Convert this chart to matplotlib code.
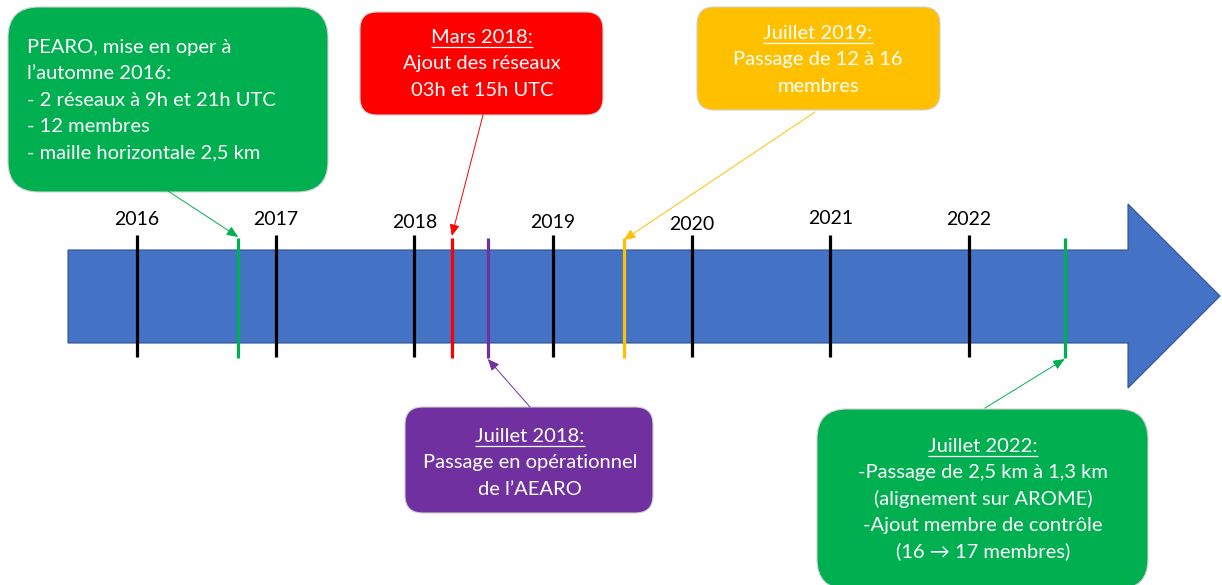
import matplotlib
matplotlib.use('Agg')
import matplotlib.pyplot as plt
from matplotlib.patches import Polygon, FancyBboxPatch

# ---------------- data ----------------
years = [2016, 2017, 2018, 2019, 2020, 2021, 2022]
year_labels = ['2016', '2017', '2018', '2019', '2020', '2021', '2022']
event_dates = [2016.73, 2018.27, 2018.53, 2019.51, 2022.69]
event_colors = ['#00B050', '#FF0000', '#7030A0', '#FFC000', '#00B050']
event_titles = [None, 'Mars 2018:', 'Juillet 2018:', 'Juillet 2019:', 'Juillet 2022:']
event_lines = [
    ['PEARO, mise en oper à', 'l\u2019automne 2016:', '- 2 réseaux à 9h et 21h UTC',
     '- 12 membres', '- maille horizontale 2,5 km'],
    ['Ajout des réseaux', '03h et 15h UTC'],
    ['Passage en opérationnel', 'de l\u2019AEARO'],
    ['Passage de 12 à 16', 'membres'],
    ['-Passage de 2,5 km à 1,3 km', '(alignement sur AROME)',
     '-Ajout membre de contrôle', '(16 \u2192 17 membres)'],
]

# ---------------- layout (pixels) ----------------
W, H = 1222, 585
PX_2016, PX_PER_YEAR = 137, 138.67
year_label_base = [225, 225, 228, 228, 230, 224, 225]
box_rects = [(8, 7, 320, 185), (360, 12, 243, 103), (405, 407, 248, 106),
             (697, 7, 243, 103), (817, 409, 331, 180)]
text_x = [27, 482, 530, 818, 983]
text_ha = ['left', 'center', 'center', 'center', 'center']
first_base = [53, 43, 442, 39, 452]
line_step = 26.4
conn_start = [(168, 191), (483, 115), (530, 407), (815, 112), (985, 408)]
conn_end_y = [237, 236, 359, 240, 359]

FONT = ['Lato', 'DejaVu Sans']
FS_YEAR = 14
FS_BOX = 14.5

fig = plt.figure(figsize=(W / 100, H / 100), dpi=100)
ax_bg = fig.add_axes([0, 0, 1, 1])
ax_bg.set_xlim(0, W)
ax_bg.set_ylim(H, 0)
ax_bg.axis('off')

ax = fig.add_axes([0, 0, 1, 1])
ax.set_xlim(2016 - PX_2016 / PX_PER_YEAR, 2016 + (W - PX_2016) / PX_PER_YEAR)
ax.set_ylim(H, 0)
ax.axis('off')
ax.patch.set_visible(False)

# timeline arrow
arrow = Polygon([(68, 250), (1128, 250), (1128, 204), (1220, 296), (1128, 388),
                 (1128, 343), (68, 343)], closed=True, facecolor='#4472C4',
                edgecolor='#2F528F', lw=0.8, zorder=1)
ax_bg.add_patch(arrow)

# year ticks and labels
ax.vlines(years, 235, 357, colors='black', lw=2.3, zorder=3)
for yr, lab, yb in zip(years, year_labels, year_label_base):
    ax.text(yr, yb, lab, ha='center', va='baseline', fontsize=FS_YEAR,
            family=FONT, color='black')

# event ticks
ax.vlines(event_dates, 238, 358, colors=event_colors, lw=2.3, zorder=3)

# boxes
fig.canvas.draw()
renderer = fig.canvas.get_renderer()
for i, (x, y, w, h) in enumerate(box_rects):
    r = 0.1667 * min(w, h)
    box = FancyBboxPatch((x, y), w, h, boxstyle=f'round,pad=0,rounding_size={r}',
                         facecolor=event_colors[i], edgecolor='#cfcfcf', lw=0.8,
                         zorder=2)
    ax_bg.add_patch(box)
    lines = list(event_lines[i])
    titled = event_titles[i] is not None
    if titled:
        lines = [event_titles[i]] + lines
    for j, ln in enumerate(lines):
        yb = first_base[i] + j * line_step
        t = ax_bg.text(text_x[i], yb, ln, ha=text_ha[i], va='baseline',
                       fontsize=FS_BOX, family=FONT, color='white', zorder=4)
        if titled and j == 0:
            bb = t.get_window_extent(renderer=renderer)
            inv = ax_bg.transData.inverted()
            (x0, _), (x1, _) = inv.transform([(bb.x0, 0), (bb.x1, 0)])
            ax_bg.plot([x0, x1], [yb + 4, yb + 4], color='white', lw=0.9,
                       zorder=4, solid_capstyle='butt')

# connectors
for i, date in enumerate(event_dates):
    ax.annotate('', xy=(date, conn_end_y[i]), xycoords='data',
                xytext=conn_start[i], textcoords=ax_bg.transData,
                arrowprops=dict(arrowstyle='-|>,head_length=0.7,head_width=0.3',
                                color=event_colors[i], lw=0.7,
                                mutation_scale=10, shrinkA=0, shrinkB=0),
                zorder=3)

fig.savefig('out.png', dpi=100)
